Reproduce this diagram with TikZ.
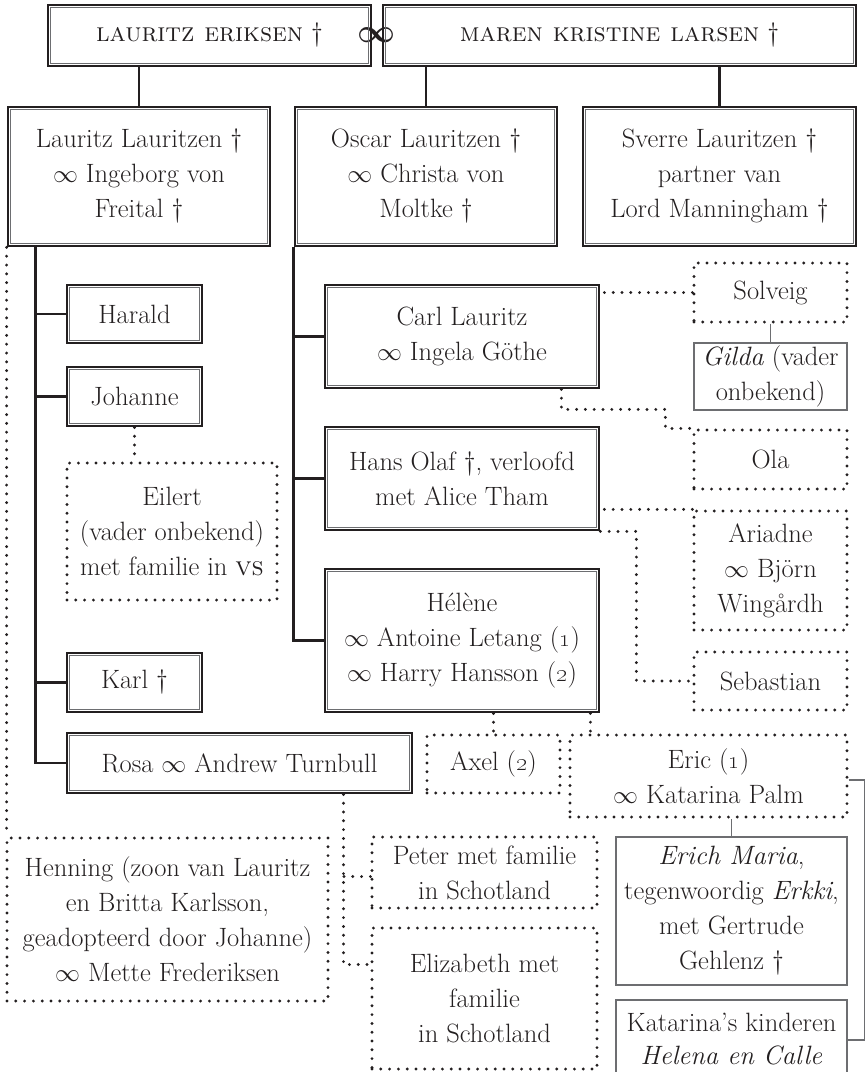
\documentclass[tikz,border=0pt]{standalone}
\usepackage{tikz}
\usepackage{amsmath}
\usepackage{graphicx}
\usetikzlibrary{calc}
\definecolor{FamInk}{HTML}{231F20}
\definecolor{FamGray}{HTML}{6D6E71}

\begin{document}
\begin{tikzpicture}[x=1pt, y=-1pt,
    famtext/.style = {align=center, text=FamInk, font=\fontsize{26.5}{35}\selectfont, inner sep=1pt},
    wh/.style 2 args = {minimum width=#1pt, minimum height=#2pt},
    dbox/.style = {famtext, draw=FamInk, line width=2.8pt},
    dotbox/.style = {famtext, draw=FamInk, line width=3.2pt, dash pattern=on 0pt off 8.8pt, line cap=round},
    thinbox/.style = {famtext, draw=FamGray, line width=1.2pt},
    innerline/.style = {draw=FamGray, line width=0.9pt},
    tree/.style = {draw=FamInk, line width=2.4pt},
    dotline/.style = {draw=FamInk, line width=3.2pt, dash pattern=on 0pt off 8.8pt, line cap=round},
    thinline/.style = {draw=FamGray, line width=1.2pt}]
  \useasboundingbox (0,0) rectangle (865,1072);
  % parents
  \node[dbox, wh={323}{61}] (le) at (209.5,35.5) {\textsc{lauritz eriksen} \dag};
  \node[dbox, wh={473}{61}] (mk) at (619.5,35.5) {\textsc{maren kristine larsen} \dag};
  \node[text=FamInk, inner sep=0pt] (inf) at (377,35) {\resizebox{38pt}{!}{$\boldsymbol{\infty}$}};
  % sons
  \node[dbox, wh={262}{139}] (ll) at (139,176.5) {Lauritz Lauritzen \dag\\$\infty$ Ingeborg von\\Freital \dag};
  \node[dbox, wh={262}{139}] (os) at (426,176.5) {Oscar Lauritzen \dag\\$\infty$ Christa von\\Moltke \dag};
  \node[dbox, wh={273}{139}] (sv) at (719.5,176.5) {Sverre Lauritzen \dag\\partner van\\Lord Manningham \dag};
  % children of Lauritz
  \node[dbox, wh={135}{58}] (ha) at (134.5,314) {Harald};
  \node[dbox, wh={135}{59}] (jo) at (134.5,396.5) {Johanne};
  \node[dotbox, wh={210}{137}] (ei) at (172,531.5) {Eilert\\(vader onbekend)\\met familie in \textsc{vs}};
  \node[dbox, wh={135}{59}] (ka) at (134.5,682.5) {Karl \dag};
  \node[dbox, wh={345}{60}] (ro) at (239.5,763) {Rosa $\infty$ Andrew Turnbull};
  \node[dotbox, wh={321}{163}] (hen) at (167.5,919.5) {Henning (zoon van Lauritz\\en Britta Karlsson,\\geadopteerd door Johanne)\\$\infty$ Mette Frederiksen};
  \node[dotbox, wh={225}{71}] (pe) at (484.5,872.5) {Peter met familie\\in Schotland};
  \node[dotbox, wh={225}{141}] (el) at (484.5,998.5) {Elizabeth met\\familie\\in Schotland};
  % children of Oscar
  \node[dbox, wh={274}{103}] (cl) at (462,336.5) {Carl Lauritz\\$\infty$ Ingela Göthe};
  \node[dbox, wh={274}{103}] (hans) at (462,478.5) {Hans Olaf \dag, verloofd\\met Alice Tham};
  \node[dbox, wh={274}{143}] (hel) at (462,640.5) {Hélène\\$\infty$ Antoine Letang (\oldstylenums{1})\\$\infty$ Harry Hansson (\oldstylenums{2})};
  % grandchildren
  \node[dotbox, wh={153}{59}] (so) at (770.5,292.5) {Solveig};
  \node[thinbox, wh={153}{67}] (gi) at (770.5,376.5) {\textit{Gilda} (vader\\onbekend)};
  \node[dotbox, wh={153}{59}] (ola) at (770.5,459.5) {Ola};
  \node[dotbox, wh={153}{119}] (ar) at (770.5,570.5) {Ariadne\\$\infty$ Björn\\Wingårdh};
  \node[dotbox, wh={153}{58}] (se) at (770.5,681) {Sebastian};
  \node[dotbox, wh={133}{58}] (ax) at (493.5,764) {Axel (\oldstylenums{2})};
  \node[dotbox, wh={277}{82}] (er) at (708.5,776) {Eric (\oldstylenums{1})\\$\infty$ Katarina Palm};
  \node[thinbox, wh={231}{148}] (em) at (731.5,911) {\textit{Erich Maria},\\tegenwoordig \textit{Erkki},\\met Gertrude\\Gehlenz \dag};
  \node[thinbox, wh={231}{78}, font=\fontsize{26.5}{33}\selectfont] (kk) at (731.5,1039) {Katarina’s kinderen\\\textit{Helena en Calle}};

  % inner lines of the double boxes
  \foreach \n in {le,mk,ll,os,sv,ha,jo,ka,ro,cl,hans,hel}
    \draw[innerline] ([shift={(4pt,-4pt)}]\n.north west) rectangle ([shift={(-4pt,4pt)}]\n.south east);

  % descent lines
  \draw[tree] (ll.north) -- (ll.north |- le.south);
  \draw[tree] (os.north) -- (os.north |- mk.south);
  \draw[tree] (sv.north) -- (sv.north |- mk.south);
  \coordinate (llb) at ([xshift=29pt]ll.south west);
  \draw[tree] (llb) |- (ro.west);
  \foreach \c in {ha,jo,ka}
    \draw[tree] (\c.west) -- (\c.west -| llb);
  \draw[tree] (os.south west) |- (hel.west);
  \foreach \c in {cl,hans}
    \draw[tree] (\c.west) -- (\c.west -| os.south west);

  % dotted relations
  \draw[dotline] (ll.south west) -- (ll.south west |- hen.north);
  \draw[dotline] (jo.south) -- (jo.south |- ei.north);
  \draw[dotline] (so.west) -- (so.west -| cl.east);
  \draw[dotline] ([xshift=-39pt]cl.south east) -- ++(0,20) -| ([xshift=-27pt]ola.north west) -- (ola.north west);
  \draw[dotline] (ar.north west) -- (ar.north west -| hans.east);
  \draw[dotline] (hans.south east) -- ++(36,0) |- (se.west);
  \draw[dotline] (ax.north |- hel.south) -- (ax.north);
  \draw[dotline] ([xshift=-10pt]hel.south east) -- ([xshift=-10pt]hel.south east |- er.north);
  \coordinate (rob) at ([xshift=104pt]ro.south);
  \draw[dotline] (rob) |- ([yshift=34pt]el.west);
  \draw[dotline] ([yshift=-4pt]pe.west) -- ([yshift=-4pt]pe.west -| rob);

  % thin lines
  \draw[thinline] (so.south) -- (gi.north);
  \draw[thinline] (em.north) -- (em.north |- er.south);
  \draw[thinline] ([yshift=-4pt]er.east) -- ++(16,0) |- ([yshift=-1pt]kk.east);
\end{tikzpicture}
\end{document}
